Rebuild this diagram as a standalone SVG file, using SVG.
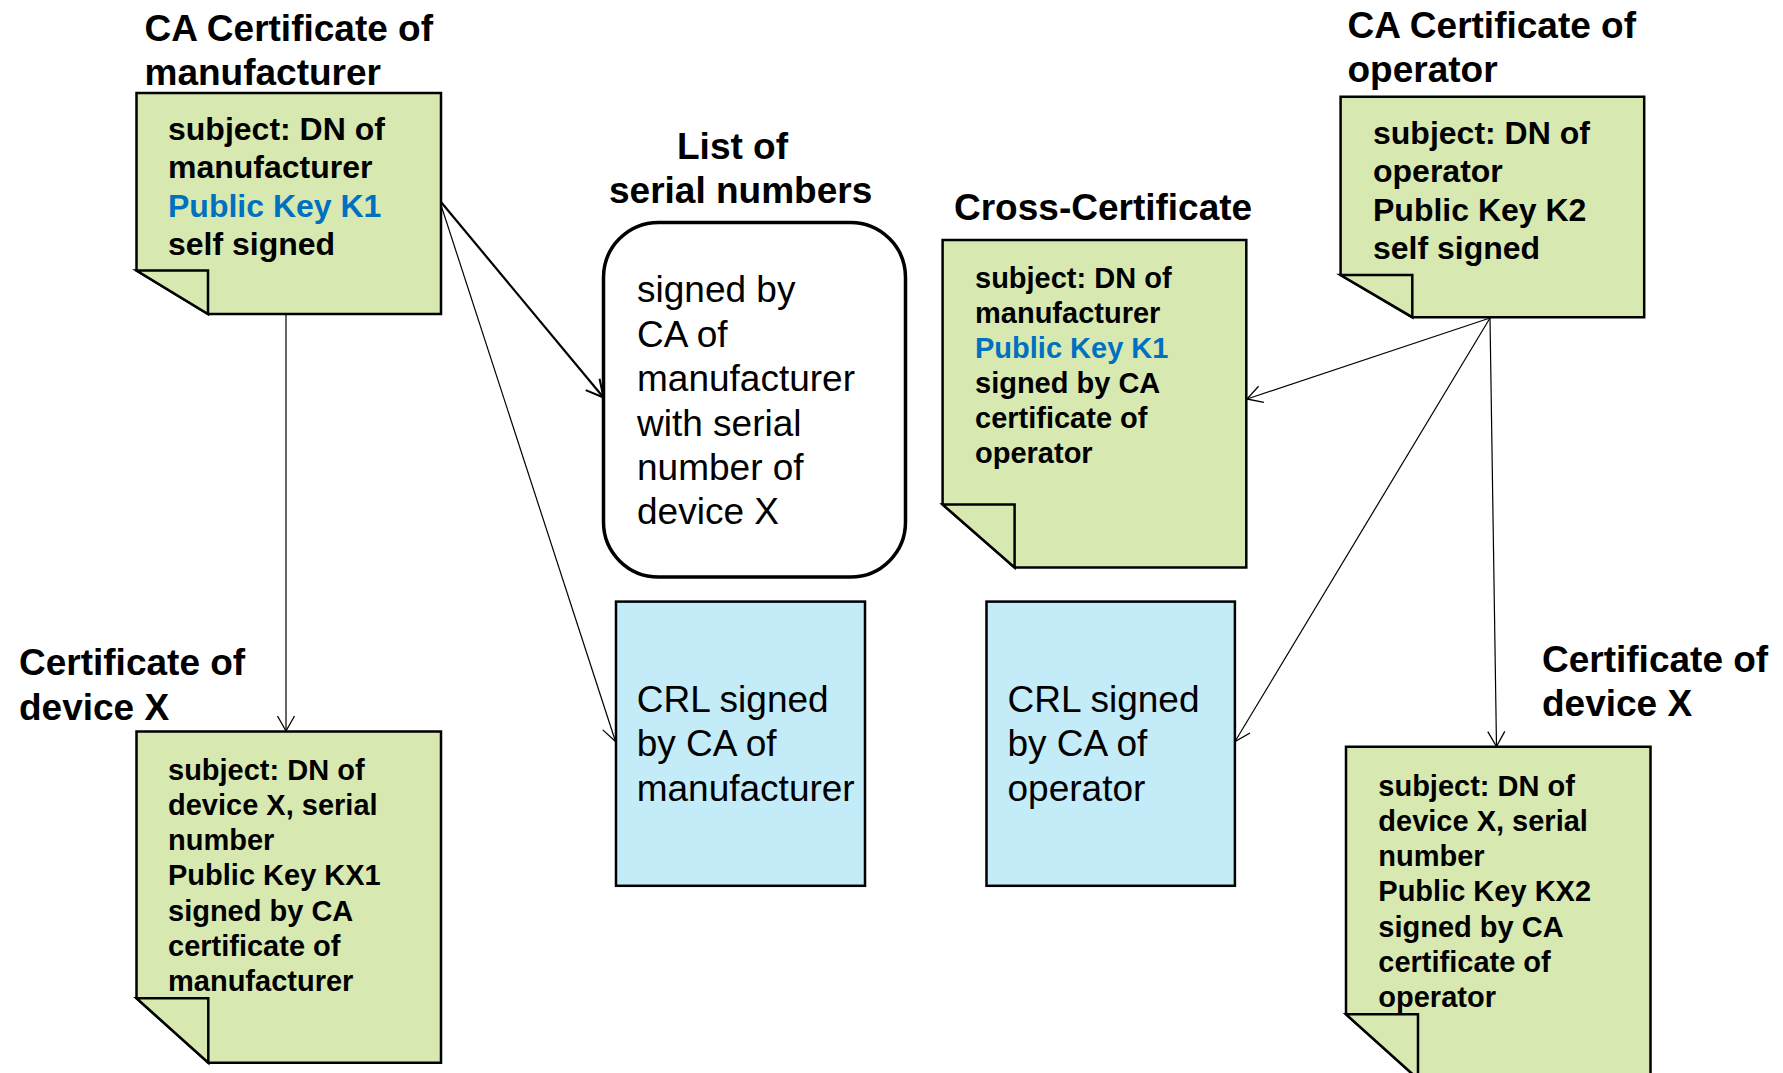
<svg xmlns="http://www.w3.org/2000/svg" width="1783" height="1073" viewBox="0 0 1783 1073">
<style>
  .title { font-family: "Liberation Sans", Arial, sans-serif; font-weight: bold; font-size: 37px; fill: #000; }
  .nt32 { font-family: "Liberation Sans", Arial, sans-serif; font-weight: bold; font-size: 32px; fill: #000; }
  .nt29 { font-family: "Liberation Sans", Arial, sans-serif; font-weight: bold; font-size: 29px; fill: #000; }
  .bt { font-family: "Liberation Sans", Arial, sans-serif; font-size: 37px; fill: #000; }
  .blue { fill: #0070C0; }
  .note { fill: #D7E9B1; stroke: #000; stroke-width: 2.5; stroke-linejoin: miter; }
  .crl { fill: #C4EBF8; stroke: #000; stroke-width: 2.5; }
  .list { fill: #fff; stroke: #000; stroke-width: 3.5; }
  .conn { fill: none; stroke: #000; stroke-width: 1.2; }
  .conn2 { fill: none; stroke: #000; stroke-width: 2.2; }
</style>
<defs>
  <marker id="arr" markerUnits="userSpaceOnUse" markerWidth="22" markerHeight="22" refX="17" refY="11" orient="auto" overflow="visible">
    <path d="M2,2.5 L17,11 L2,19.5" fill="none" stroke="#000" stroke-width="1.3"/>
  </marker>
  <marker id="arr2" markerUnits="userSpaceOnUse" markerWidth="24" markerHeight="24" refX="19" refY="12" orient="auto" overflow="visible">
    <path d="M2,3 L19,12 L2,21" fill="none" stroke="#000" stroke-width="2"/>
  </marker>
</defs>

<g id="connectors">
  <line class="conn" x1="286" y1="314" x2="286" y2="731" marker-end="url(#arr)"/>
  <line class="conn2" x1="441" y1="202" x2="603.5" y2="397.5" marker-end="url(#arr2)"/>
  <line class="conn" x1="441" y1="205" x2="615.5" y2="741.5" marker-end="url(#arr)"/>
  <line class="conn" x1="1490" y1="318" x2="1247" y2="399" marker-end="url(#arr)"/>
  <line class="conn" x1="1490" y1="318" x2="1235" y2="741.5" marker-end="url(#arr)"/>
  <line class="conn" x1="1490" y1="318" x2="1496.5" y2="746.5" marker-end="url(#arr)"/>
</g>

<g id="ca-manufacturer">
  <text class="title" x="144.5" y="41">CA Certificate of</text>
  <text class="title" x="144.5" y="85.4">manufacturer</text>
  <path class="note" d="M136.5,93 L441,93 L441,314 L208,314 L136.5,270.6 Z"/>
  <path class="note" d="M136.5,270.6 L208,270.6 L208,314 Z"/>
  <text class="nt32" x="168" y="140">subject: DN of</text>
  <text class="nt32" x="168" y="178.4">manufacturer</text>
  <text class="nt32 blue" x="168" y="216.8">Public Key K1</text>
  <text class="nt32" x="168" y="255.2">self signed</text>
</g>

<g id="ca-operator">
  <text class="title" x="1347.5" y="37.5">CA Certificate of</text>
  <text class="title" x="1347.5" y="81.5">operator</text>
  <path class="note" d="M1340.6,96.7 L1644.2,96.7 L1644.2,317.2 L1412.3,317.2 L1340.6,275 Z"/>
  <path class="note" d="M1340.6,275 L1412.3,275 L1412.3,317.2 Z"/>
  <text class="nt32" x="1373" y="144">subject: DN of</text>
  <text class="nt32" x="1373" y="182.4">operator</text>
  <text class="nt32" x="1373" y="220.8">Public Key K2</text>
  <text class="nt32" x="1373" y="259.2">self signed</text>
</g>

<g id="serial-list">
  <text class="title" x="677" y="159">List of</text>
  <text class="title" x="609" y="203">serial numbers</text>
  <rect class="list" x="603.5" y="222.5" width="302" height="354.5" rx="55" ry="55"/>
  <text class="bt" x="637" y="302.3">signed by</text>
  <text class="bt" x="637" y="346.7">CA of</text>
  <text class="bt" x="637" y="391.1">manufacturer</text>
  <text class="bt" x="637" y="435.5">with serial</text>
  <text class="bt" x="637" y="479.9">number of</text>
  <text class="bt" x="637" y="524.3">device X</text>
</g>

<g id="cross-certificate">
  <text class="title" x="954" y="219.5">Cross-Certificate</text>
  <path class="note" d="M942.6,240 L1246.3,240 L1246.3,567.4 L1014.6,567.4 L942.6,504.5 Z"/>
  <path class="note" d="M942.6,504.5 L1014.6,504.5 L1014.6,567.4 Z"/>
  <text class="nt29" x="975" y="287.5">subject: DN of</text>
  <text class="nt29" x="975" y="322.6">manufacturer</text>
  <text class="nt29 blue" x="975" y="357.7">Public Key K1</text>
  <text class="nt29" x="975" y="392.8">signed by CA</text>
  <text class="nt29" x="975" y="427.9">certificate of</text>
  <text class="nt29" x="975" y="463">operator</text>
</g>

<g id="crl-manufacturer">
  <rect class="crl" x="616" y="601.6" width="249" height="284.2"/>
  <text class="bt" x="636.7" y="711.7">CRL signed</text>
  <text class="bt" x="636.7" y="756.1">by CA of</text>
  <text class="bt" x="636.7" y="800.5">manufacturer</text>
</g>

<g id="crl-operator">
  <rect class="crl" x="986.5" y="601.6" width="248.4" height="284.2"/>
  <text class="bt" x="1007.5" y="711.7">CRL signed</text>
  <text class="bt" x="1007.5" y="756.1">by CA of</text>
  <text class="bt" x="1007.5" y="800.5">operator</text>
</g>

<g id="device-x-manufacturer">
  <text class="title" x="19" y="675">Certificate of</text>
  <text class="title" x="19" y="719.5">device X</text>
  <path class="note" d="M136.5,731.5 L441,731.5 L441,1062.7 L208.3,1062.7 L136.5,998.3 Z"/>
  <path class="note" d="M136.5,998.3 L208.3,998.3 L208.3,1062.7 Z"/>
  <text class="nt29" x="168" y="779.5">subject: DN of</text>
  <text class="nt29" x="168" y="814.8">device X, serial</text>
  <text class="nt29" x="168" y="850.1">number</text>
  <text class="nt29" x="168" y="885.4">Public Key KX1</text>
  <text class="nt29" x="168" y="920.7">signed by CA</text>
  <text class="nt29" x="168" y="956">certificate of</text>
  <text class="nt29" x="168" y="991.3">manufacturer</text>
</g>

<g id="device-x-operator">
  <text class="title" x="1542" y="671.7">Certificate of</text>
  <text class="title" x="1542" y="716">device X</text>
  <path class="note" d="M1346,746.7 L1650.5,746.7 L1650.5,1079 L1418,1079 L1346,1014.3 Z"/>
  <path class="note" d="M1346,1014.3 L1418,1014.3 L1418,1079 Z"/>
  <text class="nt29" x="1378.3" y="795.7">subject: DN of</text>
  <text class="nt29" x="1378.3" y="830.9">device X, serial</text>
  <text class="nt29" x="1378.3" y="866.1">number</text>
  <text class="nt29" x="1378.3" y="901.3">Public Key KX2</text>
  <text class="nt29" x="1378.3" y="936.5">signed by CA</text>
  <text class="nt29" x="1378.3" y="971.7">certificate of</text>
  <text class="nt29" x="1378.3" y="1006.9">operator</text>
</g>
</svg>
